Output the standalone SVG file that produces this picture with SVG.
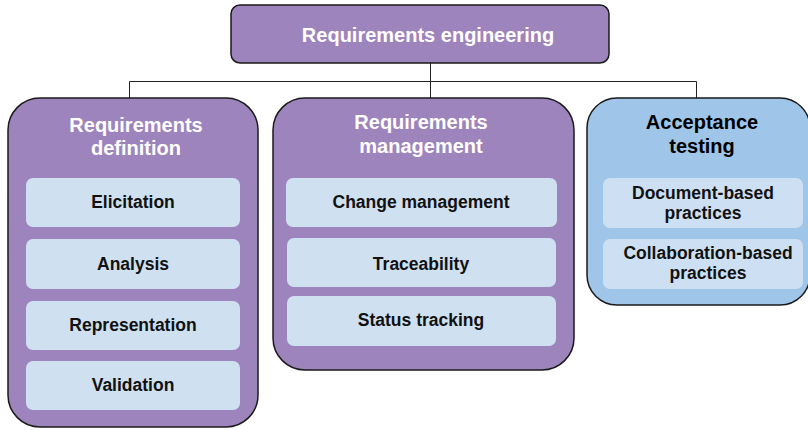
<svg xmlns="http://www.w3.org/2000/svg" width="808" height="430" viewBox="0 0 808 430">
<style>
.p{fill:#9e84bd;stroke:#1a1a1a;stroke-width:1.5}
.b{fill:#9fc5e8;stroke:#1a1a1a;stroke-width:1.5}
.i{fill:#cfe0f1;stroke:none}
.ib{fill:#cde0f3;stroke:none}
text{font-family:"Liberation Sans",Arial,sans-serif;font-weight:bold;text-anchor:middle}
.h{font-size:20px;fill:#fff}
.hk{font-size:20px;fill:#000}
.t{font-size:17.5px;fill:#111}
.c{fill:none;stroke:#222;stroke-width:1}
</style>
<g id="connectors">
<path class="c" d="M430.5 63V81.5M129.5 81.5H696.5M129.5 81.5V98M430.5 81.5V98M696.5 81.5V98"/>
</g>
<g id="root">
<rect class="p" x="231" y="5" width="378" height="58" rx="9"/>
<text class="h" x="428" y="42">Requirements engineering</text>
</g>
<g id="definition">
<rect class="p" x="8" y="98" width="250" height="329" rx="32"/>
<text class="h" x="136" y="132">Requirements</text>
<text class="h" x="136" y="155">definition</text>
</g>
<g id="elicitation"><rect class="i" x="26" y="178" width="214" height="49" rx="7"/><text class="t" x="133" y="208">Elicitation</text></g>
<g id="analysis"><rect class="i" x="26" y="239" width="214" height="50" rx="7"/><text class="t" x="133" y="270">Analysis</text></g>
<g id="representation"><rect class="i" x="26" y="301" width="214" height="49" rx="7"/><text class="t" x="133" y="331">Representation</text></g>
<g id="validation"><rect class="i" x="26" y="361" width="214" height="49" rx="7"/><text class="t" x="133" y="391">Validation</text></g>
<g id="management">
<rect class="p" x="273" y="98" width="301" height="272" rx="32"/>
<text class="h" x="421" y="129">Requirements</text>
<text class="h" x="421" y="153">management</text>
</g>
<g id="change"><rect class="i" x="286" y="178" width="271" height="49" rx="7"/><text class="t" x="421" y="208">Change management</text></g>
<g id="traceability"><rect class="i" x="287" y="238" width="269" height="49" rx="7"/><text class="t" x="421" y="270">Traceability</text></g>
<g id="status"><rect class="i" x="287" y="296" width="269" height="50" rx="7"/><text class="t" x="421" y="326">Status tracking</text></g>
<g id="acceptance">
<rect class="b" x="587" y="98" width="223" height="207" rx="30"/>
<text class="hk" x="702" y="129">Acceptance</text>
<text class="hk" x="702" y="153">testing</text>
</g>
<g id="document"><rect class="ib" x="603" y="178" width="200" height="50" rx="7"/><text class="t" x="703" y="199">Document-based</text><text class="t" x="703" y="219">practices</text></g>
<g id="collaboration"><rect class="ib" x="603" y="239" width="200" height="50" rx="7"/><text class="t" x="708" y="259">Collaboration-based</text><text class="t" x="708" y="279">practices</text></g>
</svg>
